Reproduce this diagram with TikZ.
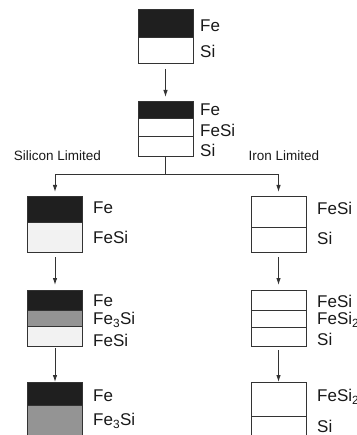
\documentclass[tikz,border=0pt]{standalone}
\usepackage{fontspec}
\setmainfont{Liberation Sans}
\usetikzlibrary{arrows.meta,positioning}

\begin{document}
\begin{tikzpicture}[x=1pt,y=-1pt,
  layer/.style={draw=black!80,line width=1pt,minimum width=55pt,
                inner sep=0pt,outer sep=0pt,anchor=north},
  fe/.style={layer,fill=black!88},
  fethree/.style={layer,fill=black!42},
  fesi/.style={layer,fill=black!5},
  blank/.style={layer,fill=white},
  lbl/.style={anchor=west,inner sep=0pt,font=\fontsize{17}{17}\selectfont,text=black!90},
  branchlbl/.style={font=\fontsize{13.5}{13.5}\selectfont,text=black!90},
  arr/.style={-{Latex[length=7pt,width=4.5pt]},draw=black!80,line width=0.9pt}
]
\useasboundingbox (0,0) rectangle (356,435);
\clip (0,0) rectangle (356,435);

\node[fe,minimum height=28pt] (aFe) at (165.5,10) {};
\node[blank,minimum height=26pt,below=0pt of aFe] (aSi) {};
\node[lbl] at (200,26) {Fe};
\node[lbl] at (200,51) {Si};

\node[fe,minimum height=17pt] (bFe) at (165.5,102) {};
\node[blank,minimum height=18pt,below=0pt of bFe] (bFeSi) {};
\node[blank,minimum height=20pt,below=0pt of bFeSi] (bSi) {};
\node[lbl] at (200,110) {Fe};
\node[lbl] at (200,130) {FeSi};
\node[lbl] at (200,150) {Si};

\node[branchlbl] (silim) at (57.5,156) {Silicon Limited};
\node[branchlbl] (felim) at (284,156) {Iron Limited};

\node[fe,minimum height=25pt] (lAFe) at (55,197) {};
\node[fesi,minimum height=30pt,below=0pt of lAFe] (lAFeSi) {};
\node[lbl] at (93,208) {Fe};
\node[lbl] at (93,237) {FeSi};

\node[fe,minimum height=20pt] (lBFe) at (55,290) {};
\node[fethree,minimum height=16pt,below=0pt of lBFe] (lBFeth) {};
\node[fesi,minimum height=20pt,below=0pt of lBFeth] (lBFeSi) {};
\node[lbl] at (93,301) {Fe};
\node[lbl] at (93,320) {Fe\textsubscript{3}Si};
\node[lbl] at (93,340) {FeSi};

\node[fe,minimum height=23pt] (lCFe) at (55,382) {};
\node[fethree,minimum height=60pt,below=0pt of lCFe] (lCFeth) {};
\node[lbl] at (93,396) {Fe};
\node[lbl] at (93,421) {Fe\textsubscript{3}Si};

\node[blank,minimum height=30pt] (rAFeSi) at (278.5,197) {};
\node[blank,minimum height=25pt,below=0pt of rAFeSi] (rASi) {};
\node[lbl] at (317,208) {FeSi};
\node[lbl] at (317,238) {Si};

\node[blank,minimum height=20pt] (rBFeSi) at (278.5,290) {};
\node[blank,minimum height=17pt,below=0pt of rBFeSi] (rBFeSit) {};
\node[blank,minimum height=19pt,below=0pt of rBFeSit] (rBSi) {};
\node[lbl] at (317,301) {FeSi};
\node[lbl] at (317,320) {FeSi\textsubscript{2}};
\node[lbl] at (317,339) {Si};

\node[blank,minimum height=34pt] (rCFeSit) at (278.5,382) {};
\node[blank,minimum height=40pt,below=0pt of rCFeSit] (rCSi) {};
\node[lbl] at (317,397) {FeSi\textsubscript{2}};
\node[lbl] at (317,426) {Si};

\coordinate (split) at (165.5,174);
\draw[arr,shorten <=5pt,shorten >=5pt] (aSi) -- (bFe);
\draw[draw=black!80,line width=0.9pt] (bSi) -- (split);
\draw[arr,shorten >=5pt] (split) -| (lAFe);
\draw[arr,shorten >=5pt] (split) -| (rAFeSi);
\draw[arr,shorten <=5pt,shorten >=5pt] (lAFeSi) -- (lBFe);
\draw[arr,shorten <=5pt,shorten >=5pt] (rASi) -- (rBFeSi);
\draw[arr,shorten <=2pt] (lBFeSi) -- (lCFe);
\draw[arr,shorten <=4pt] (rBSi) -- (rCFeSit);
\end{tikzpicture}
\end{document}
